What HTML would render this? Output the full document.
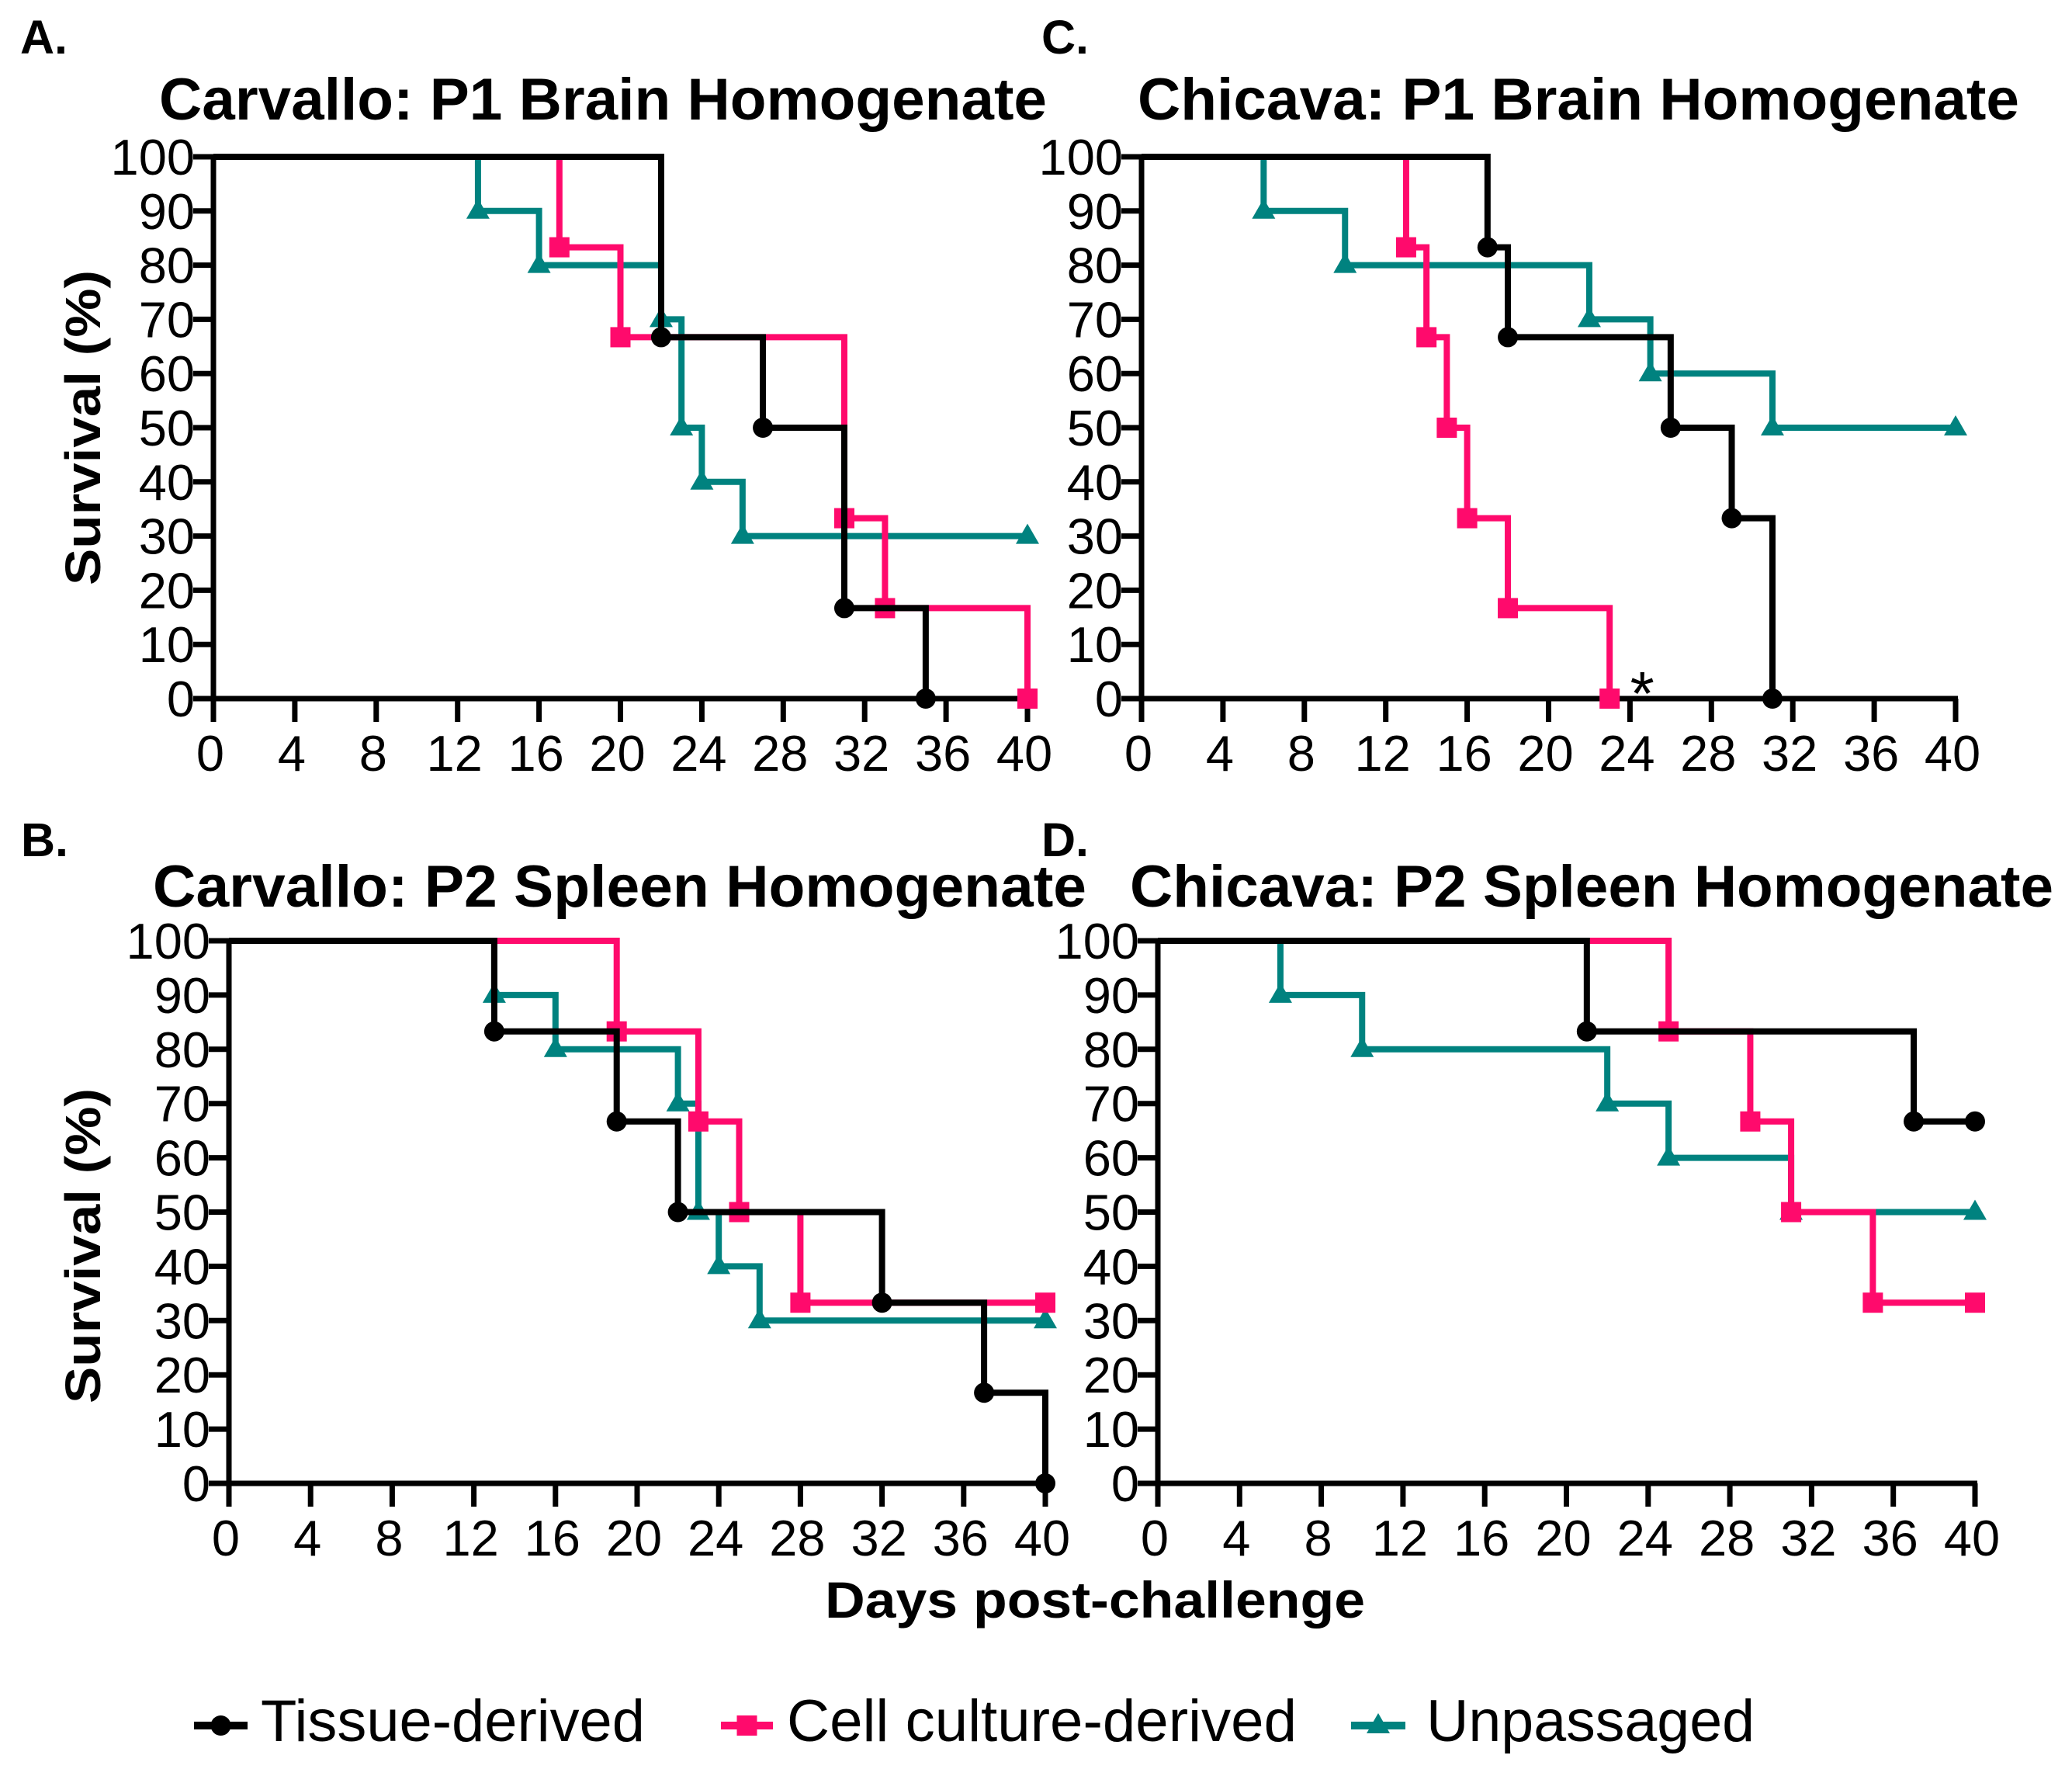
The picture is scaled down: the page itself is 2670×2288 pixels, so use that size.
<!DOCTYPE html>
<html><head><meta charset="utf-8"><style>
html,body{margin:0;padding:0;background:#fff}
svg{display:block}
text{font-family:"Liberation Sans",Arial,sans-serif;fill:#000}
</style></head><body>
<svg id="fig" width="2670" height="2288" viewBox="0 0 2670 2288" xmlns="http://www.w3.org/2000/svg"></svg>
<script>
const dayTicks = [0,4,8,12,16,20,24,28,32,36,40];
const pctTicks = [0,10,20,30,40,50,60,70,80,90,100];
// event days and survival values (step after each day)
const aTissueDays = [22,27,31,35];        const aTissueVals = [66.7,50,16.7,0];
const aCellDays = [17,20,31,33,40];       const aCellVals = [83.3,66.7,33.3,16.7,0];
const aUnpDays = [13,16,22,23,24,26,40];  const aUnpVals = [90,80,70,50,40,30,30];
const bTissueDays = [13,19,22,32,37,40];  const bTissueVals = [83.3,66.7,50,33.3,16.7,0];
const bCellDays = [19,23,25,28,40];       const bCellVals = [83.3,66.7,50,33.3,33.3];
const bUnpDays = [13,16,22,23,24,26,40];  const bUnpVals = [90,80,70,50,40,30,30];
const cTissueDays = [17,18,26,29,31];     const cTissueVals = [83.3,66.7,50,33.3,0];
const cCellDays = [13,14,15,16,18,23];    const cCellVals = [83.3,66.7,50,33.3,16.7,0];
const cUnpDays = [6,10,22,25,31,40];      const cUnpVals = [90,80,70,60,50,50];
const dTissueDays = [21,37,40];           const dTissueVals = [83.3,66.7,66.7];
const dCellDays = [25,29,31,35,40];       const dCellVals = [83.3,66.7,50,33.3,33.3];
const dUnpDays = [6,10,22,25,31,40];      const dUnpVals = [90,80,70,60,50,50];

const NS = "http://www.w3.org/2000/svg";
const svg = document.getElementById('fig');
const COL = {tissue:'#000000', cell:'#ff0a6c', unp:'#00827f'};
function el(tag, attrs, parent){const e=document.createElementNS(NS,tag);for(const k in attrs)e.setAttribute(k,attrs[k]);(parent||svg).appendChild(e);return e;}

function marker(g, kind, x, y){
  let m;
  if(kind==='tissue'){m=el('circle',{cx:x,cy:y,r:13,fill:COL.tissue},g);}
  else if(kind==='cell'){m=el('rect',{x:x-13,y:y-13,width:26,height:26,fill:COL.cell},g);}
  else {m=el('polygon',{points:`${x-15},${y+10} ${x+15},${y+10} ${x},${y-16}`,fill:COL.unp},g);}
  
  
}

function panel(p){
  const g = el('g',{});
  
  
  const sx = d => p.x0 + (p.x1-p.x0)*d/40;
  const sy = v => p.y0 + (p.y100-p.y0)*v/100;
  const ax = el('g',{stroke:'#000','stroke-width':7,fill:'none'},g);
  
  
  el('line',{x1:sx(0),y1:sy(0)+3,x2:sx(0),y2:sy(100)-3},ax);
  el('line',{x1:sx(0)-26,y1:sy(0),x2:sx(40)+3,y2:sy(0)},ax);
  pctTicks.forEach(v=>{
    el('line',{x1:sx(0)-26,y1:sy(v),x2:sx(0),y2:sy(v)},ax);
    const t=el('text',{x:sx(0)-24,y:sy(v)+23,'font-size':65,'text-anchor':'end'},g);
    t.textContent=v;
    
    
  });
  dayTicks.forEach(d=>{
    el('line',{x1:sx(d),y1:sy(0),x2:sx(d),y2:sy(0)+30},ax);
    const t=el('text',{x:sx(d)-4,y:sy(0)+93,'font-size':65,'text-anchor':'middle'},g);
    t.textContent=d;
    
    
  });
  p.series.forEach(s=>{
    let d=`M${sx(0)},${sy(100)}`;
    s.days.forEach((day,i)=>{ d+=` H${sx(day)} V${sy(s.vals[i])}`;});
    const path=el('path',{d:d,fill:'none',stroke:COL[s.kind],'stroke-width':8,'stroke-linejoin':'miter'},g);
    
    
    s.days.forEach((day,i)=>marker(g,s.kind,sx(day),sy(s.vals[i])));
  });
  const tt=el('text',{x:p.tx0,y:p.ty,'font-size':76,'font-weight':'bold',textLength:p.tx1-p.tx0,lengthAdjust:'spacingAndGlyphs'},g);
  tt.textContent=p.title;
  
  
  const lb=el('text',{x:p.lx,y:p.ly,'font-size':61,'font-weight':'bold'},g);
  lb.textContent=p.label;
  
  
  if(p.ytitle){
    const yt=el('text',{x:0,y:0,'font-size':64,'font-weight':'bold','text-anchor':'middle',transform:`translate(${p.ytitle[0]+22},${p.ytitle[1]}) rotate(-90)`,textLength:406,lengthAdjust:'spacingAndGlyphs'},g);
    yt.textContent='Survival (%)';
    
    
  }
  if(p.star){
    const st=el('text',{x:sx(p.star[0]),y:sy(p.star[1])+42,'font-size':80,'text-anchor':'middle'},g);
    st.textContent='*';
    
    
  }
}

panel({name:'panel-a',x0:275,x1:1324,y0:900,y100:202,title:'Carvallo: P1 Brain Homogenate',tx0:205,tx1:1349,ty:154,label:'A.',lx:26,ly:69,ytitle:[107,551],
  series:[{kind:'unp',days:aUnpDays,vals:aUnpVals},{kind:'cell',days:aCellDays,vals:aCellVals},{kind:'tissue',days:aTissueDays,vals:aTissueVals}]});
panel({name:'panel-c',x0:1471,x1:2520,y0:900,y100:202,title:'Chicava: P1 Brain Homogenate',tx0:1466,tx1:2602,ty:154,label:'C.',lx:1342,ly:69,star:[24.6,3],
  series:[{kind:'unp',days:cUnpDays,vals:cUnpVals},{kind:'cell',days:cCellDays,vals:cCellVals},{kind:'tissue',days:cTissueDays,vals:cTissueVals}]});
panel({name:'panel-b',x0:295,x1:1347,y0:1911,y100:1212,title:'Carvallo: P2 Spleen Homogenate',tx0:197,tx1:1400,ty:1168,label:'B.',lx:27,ly:1103,ytitle:[107,1605],
  series:[{kind:'unp',days:bUnpDays,vals:bUnpVals},{kind:'cell',days:bCellDays,vals:bCellVals},{kind:'tissue',days:bTissueDays,vals:bTissueVals}]});
panel({name:'panel-d',x0:1492,x1:2545,y0:1911,y100:1212,title:'Chicava: P2 Spleen Homogenate',tx0:1456,tx1:2646,ty:1168,label:'D.',lx:1342,ly:1103,
  series:[{kind:'unp',days:dUnpDays,vals:dUnpVals},{kind:'cell',days:dCellDays,vals:dCellVals},{kind:'tissue',days:dTissueDays,vals:dTissueVals}]});

const xt=el('text',{x:1063,y:2084,'font-size':66,'font-weight':'bold',textLength:696,lengthAdjust:'spacingAndGlyphs'});
xt.textContent='Days post-challenge';



const legend=[{kind:'tissue',label:'Tissue-derived',l0:250,l1:319,t0:336,t1:831},
              {kind:'cell',label:'Cell culture-derived',l0:929,l1:996,t0:1014,t1:1671},
              {kind:'unp',label:'Unpassaged',l0:1741,l1:1811,t0:1838,t1:2261}];
legend.forEach(it=>{
  const g=el('g',{});
  
  
  el('line',{x1:it.l0,y1:2223,x2:it.l1,y2:2223,stroke:COL[it.kind],'stroke-width':10},g);
  marker(g,it.kind,(it.l0+it.l1)/2,2223);
  const t=el('text',{x:it.t0,y:2243,'font-size':76,textLength:it.t1-it.t0,lengthAdjust:'spacingAndGlyphs'},g);
  t.textContent=it.label;
  
  
});
</script>
</body></html>
